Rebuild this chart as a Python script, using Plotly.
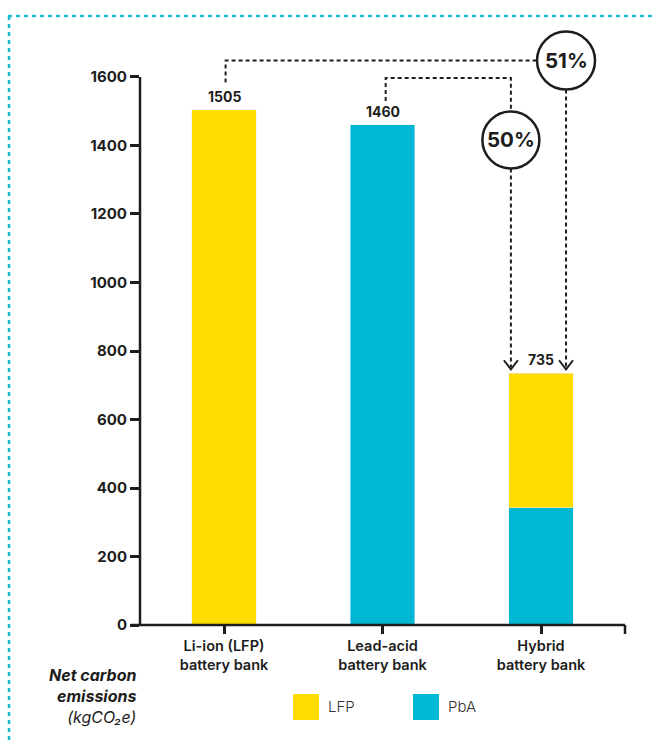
import plotly.graph_objects as go

# --- data -------------------------------------------------------------------
categories = ["Li-ion (LFP)<br>battery bank", "Lead-acid<br>battery bank", "Hybrid<br>battery bank"]
cat_pos = [0, 1, 2]
lfp_x = [0, 2]
lfp_values = [1505, 393]
pba_x = [1, 2]
pba_values = [1460, 342]
y_ticks = [0, 200, 400, 600, 800, 1000, 1200, 1400, 1600]
legend_names = ["LFP", "PbA"]

LFP_COLOR = "#FFDD00"
PBA_COLOR = "#00B8D4"
INK = "#1d1d1b"
BORDER = "#1BB8D0"
FONT = "Inter"

lfp_total = lfp_values[0]
pba_total = pba_values[0]
hybrid_total = lfp_values[1] + pba_values[1]
saving_vs_lfp = round((lfp_total - hybrid_total) / lfp_total * 100)
saving_vs_pba = round((pba_total - hybrid_total) / pba_total * 100)

totals = {0: lfp_total, 1: pba_total, 2: hybrid_total}

# --- layout geometry --------------------------------------------------------
W, H = 652, 744
ML, MR, MT, MB = 140, 27, 20, 119
PW, PH = W - ML - MR, H - MT - MB
Y_MAX = 1766.4
X_RANGE = [-0.53, 2.53]
px_per_y = PH / Y_MAX
px_per_x = PW / (X_RANGE[1] - X_RANGE[0])


def px_x(p):  # pixel column -> paper x
    return (p - ML) / PW


def px_y(p):  # pixel row -> paper y
    return (H - MB - p) / PH


def dy(p):  # pixel distance -> data y distance
    return p / px_per_y


def dx(p):  # pixel distance -> data x distance
    return p / px_per_x


fig = go.Figure()
fig.add_trace(go.Bar(x=pba_x, y=pba_values, name="PbA", marker_color=PBA_COLOR,
                     width=0.404, showlegend=False, hoverinfo="skip"))
fig.add_trace(go.Bar(x=lfp_x, y=lfp_values, name="LFP", marker_color=LFP_COLOR,
                     width=0.404, showlegend=False, hoverinfo="skip"))

shapes = []
annotations = []

# axis lines
shapes.append(dict(type="line", xref="paper", yref="paper", x0=px_x(131), x1=1, y0=0, y1=0,
                   line=dict(color=INK, width=2.5)))
shapes.append(dict(type="line", xref="paper", yref="paper", x0=0, x1=0, y0=0, y1=1600 / Y_MAX,
                   line=dict(color=INK, width=2.5)))
shapes.append(dict(type="line", xref="paper", yref="paper", x0=1, x1=1, y0=0, y1=-9 / PH,
                   line=dict(color=INK, width=2.5)))

# value labels above bars
for x, t in totals.items():
    annotations.append(dict(x=x, y=t, xref="x", yref="y", text=f"<b>{t}</b>", showarrow=False,
                            yanchor="bottom", yshift=3,
                            font=dict(family=FONT, size=14, color=INK, weight=700)))

dash = dict(color=INK, width=2, dash="4px,3px")


def connector(x_start, y_start, y_rail, x_circle, y_circle, r_px, label, enter_side):
    """Dashed bracket from a bar top, via a labelled circle, down to the hybrid bar."""
    rx, ry = dx(r_px), dy(r_px)
    if enter_side == "left":
        path = f"M {x_start},{y_start} L {x_start},{y_rail} L {x_circle - rx},{y_rail}"
    else:
        path = (f"M {x_start},{y_start} L {x_start},{y_rail} L {x_circle},{y_rail} "
                f"L {x_circle},{y_circle + ry}")
    shapes.append(dict(type="path", xref="x", yref="y", path=path, line=dash))
    tip = hybrid_total + dy(4)
    shapes.append(dict(type="line", xref="x", yref="y", x0=x_circle, x1=x_circle,
                       y0=y_circle - ry, y1=tip + dy(2), line=dash))
    # arrow head
    shapes.append(dict(type="path", xref="x", yref="y",
                       path=(f"M {x_circle - dx(7)},{tip + dy(9)} L {x_circle},{tip} "
                             f"L {x_circle + dx(7)},{tip + dy(9)}"),
                       line=dict(color=INK, width=2)))
    shapes.append(dict(type="circle", xref="x", yref="y",
                       x0=x_circle - rx, x1=x_circle + rx, y0=y_circle - ry, y1=y_circle + ry,
                       line=dict(color=INK, width=2.5), fillcolor="white"))
    annotations.append(dict(x=x_circle, y=y_circle, xref="x", yref="y", text=f"<b>{label}%</b>",
                            showarrow=False, font=dict(family=FONT, size=20.5, color=INK, weight=800)))


connector(0.01, lfp_total + dy(27), lfp_total + dy(49), 2.158, lfp_total + dy(49), 29,
          saving_vs_lfp, "left")
connector(1.02, pba_total + dy(24), pba_total + dy(47), 1.81, pba_total - dy(15), 28.5,
          saving_vs_pba, "top")

# legend
for name, color, x0 in zip(legend_names, [LFP_COLOR, PBA_COLOR], [293, 413]):
    shapes.append(dict(type="rect", xref="paper", yref="paper",
                       x0=px_x(x0), x1=px_x(x0 + 26), y0=px_y(720), y1=px_y(694),
                       fillcolor=color, line=dict(width=0)))
    annotations.append(dict(x=px_x(x0 + 33), y=px_y(707), xref="paper", yref="paper", text=name,
                            showarrow=False, xanchor="left", yanchor="middle",
                            font=dict(family=FONT, size=15, color="#333333", weight=300)))

# axis description
annotations.append(dict(x=px_x(138), y=px_y(663), xref="paper", yref="paper", xanchor="right",
                        yanchor="top", align="right", showarrow=False,
                        text="<b><i>Net carbon</i></b><br><b><i>emissions</i></b><br><i>(kgCO₂e)</i>",
                        font=dict(family=FONT, size=16, color=INK)))

# dotted frame
shapes.append(dict(type="line", xref="paper", yref="paper", x0=px_x(8), x1=px_x(652),
                   y0=px_y(16), y1=px_y(16), line=dict(color=BORDER, width=2.5, dash="4px,4px")))
shapes.append(dict(type="line", xref="paper", yref="paper", x0=px_x(9), x1=px_x(9),
                   y0=px_y(16), y1=px_y(744), line=dict(color=BORDER, width=2.5, dash="4px,4px")))

fig.update_layout(
    width=W, height=H,
    margin=dict(l=ML, r=MR, t=MT, b=MB),
    barmode="stack",
    plot_bgcolor="white", paper_bgcolor="white",
    shapes=shapes, annotations=annotations,
    showlegend=False,
    xaxis=dict(range=X_RANGE, tickvals=cat_pos, ticktext=categories, ticks="outside",
               ticklen=8, tickwidth=2.5, tickcolor=INK, showline=False, showgrid=False,
               zeroline=False, tickfont=dict(family=FONT, size=14.5, color=INK, weight=600)),
    yaxis=dict(range=[0, Y_MAX], tickvals=y_ticks, ticks="outside", ticklen=9, tickwidth=2.5,
               tickcolor=INK, showline=False, showgrid=False, zeroline=False,
               tickfont=dict(family=FONT, size=15, color=INK, weight=700)),
)

fig.write_html("out.html")
